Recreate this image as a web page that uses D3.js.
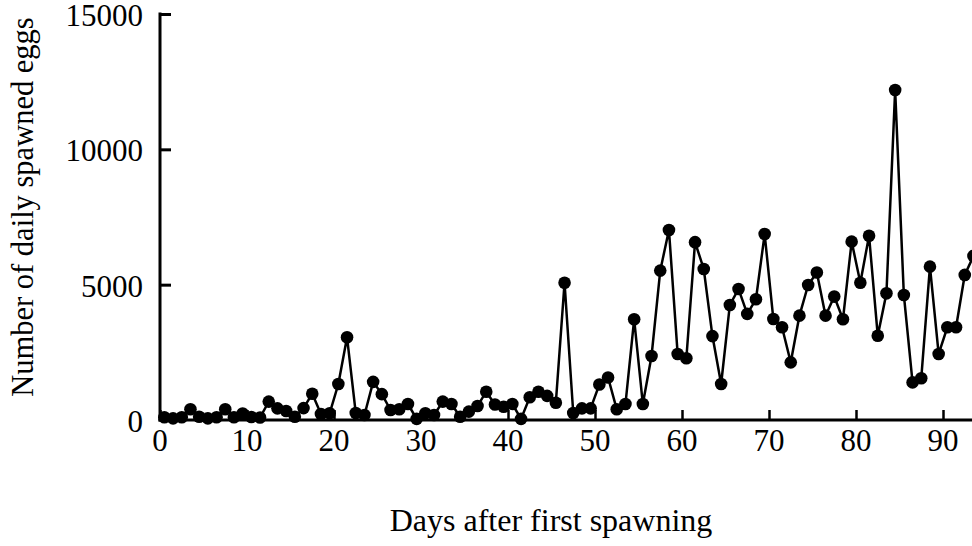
<!DOCTYPE html>
<html>
<head>
<meta charset="utf-8">
<script src="https://cdn.jsdelivr.net/npm/d3@7"></script>
<style>
  body { margin: 0; background: #fff; }
  svg { display: block; }
</style>
</head>
<body>
<svg width="972" height="546"></svg>
<script>
const svg = d3.select("svg");

// Days after first spawning
const days = [
    0, 1, 2, 3, 4, 5, 6, 7, 8, 9,
    10, 11, 12, 13, 14, 15, 16, 17, 18, 19,
    20, 21, 22, 23, 24, 25, 26, 27, 28, 29,
    30, 31, 32, 33, 34, 35, 36, 37, 38, 39,
    40, 41, 42, 43, 44, 45, 46, 47, 48, 49,
    50, 51, 52, 53, 54, 55, 56, 57, 58, 59,
    60, 61, 62, 63, 64, 65, 66, 67, 68, 69,
    70, 71, 72, 73, 74, 75, 76, 77, 78, 79,
    80, 81, 82, 83, 84, 85, 86, 87, 88, 89,
    90, 91, 92, 93
];

// Number of daily spawned eggs
const eggs = [
    100, 60, 100, 395, 120, 60, 100, 395, 100, 240,
    110, 90, 680, 430, 330, 120, 440, 970, 220, 250,
    1330, 3055, 260, 185, 1410, 955, 370, 395, 590, 40,
    250, 185, 680, 590, 120, 310, 520, 1045, 570, 490,
    590, 40, 840, 1045, 890, 640, 5070, 260, 430, 430,
    1310, 1570, 395, 590, 3720, 590, 2365, 5520, 7020, 2440,
    2280, 6570, 5580, 3100, 1330, 4250, 4840, 3920, 4460, 6870,
    3730, 3425, 2130, 3855, 4990, 5450, 3855, 4560, 3720, 6590,
    5070, 6810, 3115, 4680, 12190, 4620, 1390, 1540, 5665, 2440,
    3425, 3425, 5360, 6060
];

const xTicks = [0, 10, 20, 30, 40, 50, 60, 70, 80, 90];
const yTicks = [0, 5000, 10000, 15000];

const font = "'Liberation Serif', 'Times New Roman', serif";

const x = d3.scaleLinear().domain([0, 93]).range([160, 160 + 8.7 * 93]);
const y = d3.scaleLinear().domain([0, 15000]).range([420, 14]);

// points sit half a day right of the tick marks
const px = d => x(d + 0.5);

// x axis: line runs off the right edge, ticks point inward
const xAxis = svg.append("g")
    .attr("transform", `translate(0,${y(0)})`)
    .call(d3.axisTop(x).tickValues(xTicks).tickSize(10).tickFormat(""));
xAxis.select(".domain").remove();
xAxis.selectAll(".tick line").attr("stroke", "#000").attr("stroke-width", 2.5);
svg.append("line")
    .attr("x1", x(0) - 1.5).attr("x2", 972)
    .attr("y1", y(0)).attr("y2", y(0))
    .attr("stroke", "#000").attr("stroke-width", 3);

svg.selectAll(".xlab")
    .data(xTicks)
    .join("text")
    .attr("x", d => x(d))
    .attr("y", 451)
    .attr("text-anchor", "middle")
    .attr("font-family", font)
    .attr("font-size", 31)
    .text(d => d);

// y axis
const yAxis = svg.append("g")
    .attr("transform", `translate(${x(0)},0)`)
    .call(d3.axisRight(y).tickValues(yTicks).tickSize(11).tickFormat(""));
yAxis.select(".domain").remove();
yAxis.selectAll(".tick line").attr("stroke", "#000").attr("stroke-width", 3);
svg.append("line")
    .attr("x1", x(0)).attr("x2", x(0))
    .attr("y1", y(15000) - 1.5).attr("y2", y(0) + 1.5)
    .attr("stroke", "#000").attr("stroke-width", 3);

svg.selectAll(".ylab")
    .data(yTicks)
    .join("text")
    .attr("x", 143)
    .attr("y", d => y(d) + 12)
    .attr("text-anchor", "end")
    .attr("font-family", font)
    .attr("font-size", 31)
    .text(d => d);

// axis titles
svg.append("text")
    .attr("x", 551)
    .attr("y", 531)
    .attr("text-anchor", "middle")
    .attr("font-family", font)
    .attr("font-size", 32)
    .text("Days after first spawning");

svg.append("text")
    .attr("transform", "translate(33,207) rotate(-90)")
    .attr("text-anchor", "middle")
    .attr("font-family", font)
    .attr("font-size", 30.5)
    .text("Number of daily spawned eggs");

// series
const line = d3.line()
    .x((d, i) => px(days[i]))
    .y(d => y(d));

svg.append("path")
    .datum(eggs)
    .attr("fill", "none")
    .attr("stroke", "#000")
    .attr("stroke-width", 2.5)
    .attr("d", line);

svg.selectAll(".dot")
    .data(eggs)
    .join("circle")
    .attr("cx", (d, i) => px(days[i]))
    .attr("cy", d => y(d))
    .attr("r", 6.3)
    .attr("fill", "#000");
</script>
</body>
</html>
